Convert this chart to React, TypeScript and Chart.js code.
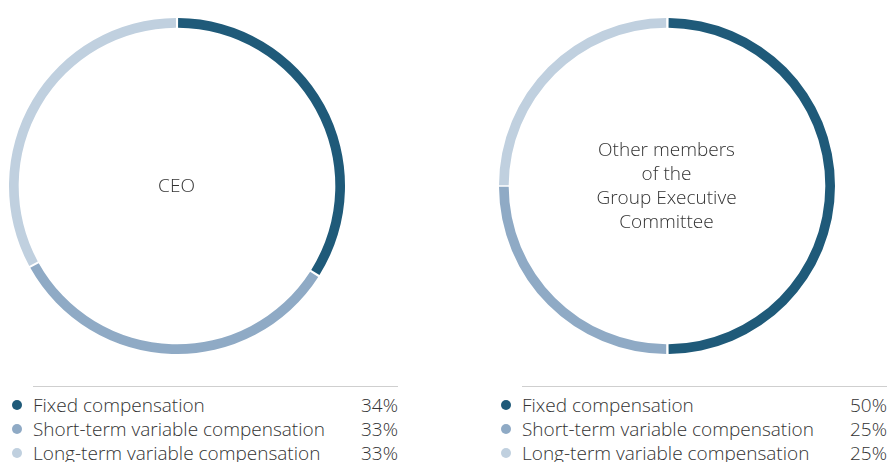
import React, { useEffect, useRef } from "react";
import { Chart, registerables } from "chart.js";
Chart.register(...registerables);

const categories = [
  "Fixed compensation",
  "Short-term variable compensation",
  "Long-term variable compensation",
];
const ceoValues = [34, 33, 33];
const gecValues = [50, 25, 25];
const colors = ["#1f5a79", "#8faac5", "#c0d0df"];
const ceoTitle = ["CEO"];
const gecTitle = ["Other members", "of the", "Group Executive", "Committee"];

const FONT = "'Open Sans', 'Noto Sans', sans-serif";
const TEXT = "#333333";

function Donut({ values, title, cx }: { values: number[]; title: string[]; cx: number }) {
  const ref = useRef<HTMLCanvasElement | null>(null);
  useEffect(() => {
    if (!ref.current) return;
    const chart = new Chart(ref.current, {
      type: "doughnut",
      data: {
        labels: categories,
        datasets: [
          {
            data: values,
            backgroundColor: colors,
            borderWidth: 0,
            spacing: 2,
          },
        ],
      },
      options: {
        animation: false,
        responsive: true,
        maintainAspectRatio: false,
        cutout: "94.2%",
        layout: { padding: 0 },
        plugins: { legend: { display: false }, tooltip: { enabled: false } },
        events: [],
      },
    });
    return () => chart.destroy();
  }, [values]);
  const size = 336;
  const cy = 186;
  return (
    <>
      <div
        style={{
          position: "absolute",
          left: cx - size / 2,
          top: cy - size / 2,
          width: size,
          height: size,
        }}
      >
        <canvas ref={ref} />
      </div>
      <div
        style={{
          position: "absolute",
          left: cx - 120,
          width: 240,
          top: cy - (title.length * 24) / 2 - 1,
          textAlign: "center",
          fontFamily: FONT,
          fontWeight: 300,
          fontSize: 19,
          lineHeight: "24px",
          color: TEXT,
        }}
      >
        {title.map((t, i) => (
          <div key={i}>{t}</div>
        ))}
      </div>
    </>
  );
}

function Legend({ values, left }: { values: number[]; left: number }) {
  return (
    <div
      style={{
        position: "absolute",
        left: left,
        top: 386,
        width: 365,
        borderTop: "1px solid #cfcfcf",
        paddingTop: 6,
        fontFamily: FONT,
        fontWeight: 300,
        fontSize: 19,
        color: TEXT,
      }}
    >
      {categories.map((c, i) => (
        <div
          key={i}
          style={{ position: "relative", height: 24, lineHeight: "24px", whiteSpace: "nowrap" }}
        >
          <span
            style={{
              position: "absolute",
              left: -21,
              top: 7,
              width: 10,
              height: 10,
              borderRadius: 5,
              background: colors[i],
            }}
          />
          <span>{c}</span>
          <span style={{ position: "absolute", right: 0 }}>{values[i]}%</span>
        </div>
      ))}
    </div>
  );
}

export default function App() {
  return (
    <div
      style={{
        position: "absolute",
        left: 0,
        top: 0,
        width: 890,
        height: 462,
        background: "#fff",
        overflow: "hidden",
      }}
    >
      <Donut values={ceoValues} title={ceoTitle} cx={176.5} />
      <Donut values={gecValues} title={gecTitle} cx={666.5} />
      <Legend values={ceoValues} left={33} />
      <Legend values={gecValues} left={522} />
    </div>
  );
}
